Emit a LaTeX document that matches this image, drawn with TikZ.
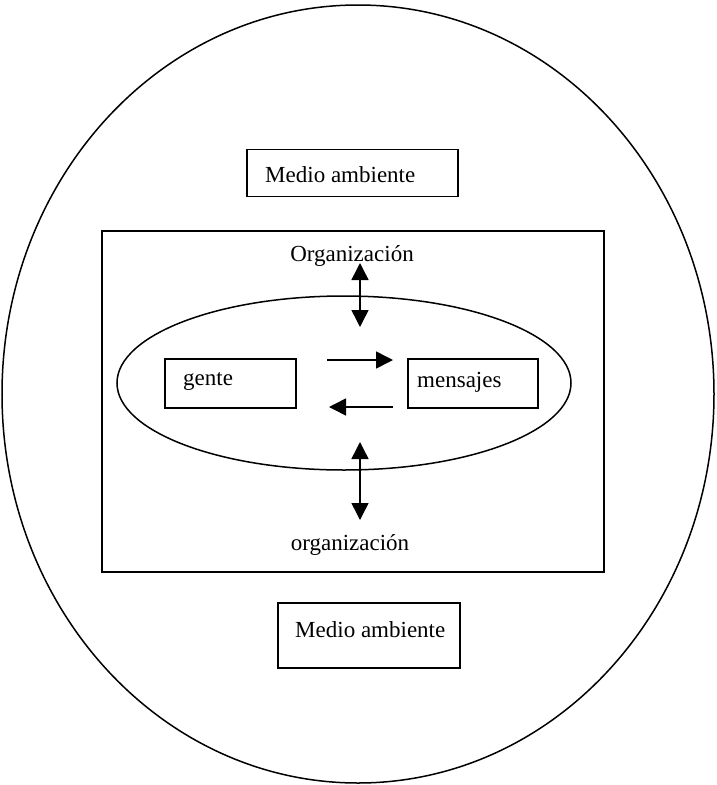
\documentclass[tikz,border=0pt]{standalone}
\usepackage{fontspec}
\setmainfont{Liberation Serif}
\usetikzlibrary{arrows.meta,shapes.geometric}
\begin{document}
\begin{tikzpicture}[x=1pt,y=-1pt,
  every node/.style={font=\fontsize{23}{27}\selectfont, inner sep=0pt},
  frame/.style={draw, line width=1.5pt},
  lbl/.style={},
  arr/.style={line width=1.5pt, -{Triangle[length=17pt,width=17pt]}},
  darr/.style={line width=1.5pt, {Triangle[length=17pt,width=17pt]}-{Triangle[length=17pt,width=17pt]}}]
\useasboundingbox (0,0) rectangle (716,785);
% outer ellipse
\node[frame, ellipse, minimum width=712, minimum height=778] (env) at (358,394) {};
% top environment box
\node[frame, rectangle, minimum width=211, minimum height=47] (medtop) at (352.5,173) {};
\node[lbl, anchor=west] (medtoptxt) at (265,175) {Medio ambiente};
% organisation rectangle
\node[frame, rectangle, minimum width=502, minimum height=341] (org) at (353,401.5) {};
\node[lbl] (orgtop) at (352,256) {Organización};
\node[lbl] (orgbot) at (350,545) {organización};
% inner ellipse
\node[frame, ellipse, minimum width=454, minimum height=174] (inner) at (344,383) {};
% gente / mensajes
\node[frame, rectangle, minimum width=131, minimum height=49] (gente) at (230.5,383.5) {};
\node[lbl, anchor=west] (gentetxt) at (183,382) {gente};
\node[frame, rectangle, minimum width=130, minimum height=49] (mens) at (473,383.5) {};
\node[lbl, anchor=west] (menstxt) at (417,382) {mensajes};
% bottom environment box
\node[frame, rectangle, minimum width=182, minimum height=65] (medbot) at (369,635.5) {};
\node[lbl, anchor=west] (medbottxt) at (295,630) {Medio ambiente};
% arrows
\coordinate (ra1) at (327,360);
\coordinate (ra2) at (393,360);
\coordinate (la1) at (393,407);
\coordinate (la2) at (329,407);
\draw[arr] (ra1) -- (ra2);
\draw[arr] (la1) -- (la2);
\coordinate (ta1) at (360,263);
\coordinate (ta2) at (360,327);
\coordinate (ba1) at (360,442);
\coordinate (ba2) at (360,520);
\draw[darr] (ta1) -- (ta2);
\draw[darr] (ba1) -- (ba2);
\end{tikzpicture}
\end{document}
